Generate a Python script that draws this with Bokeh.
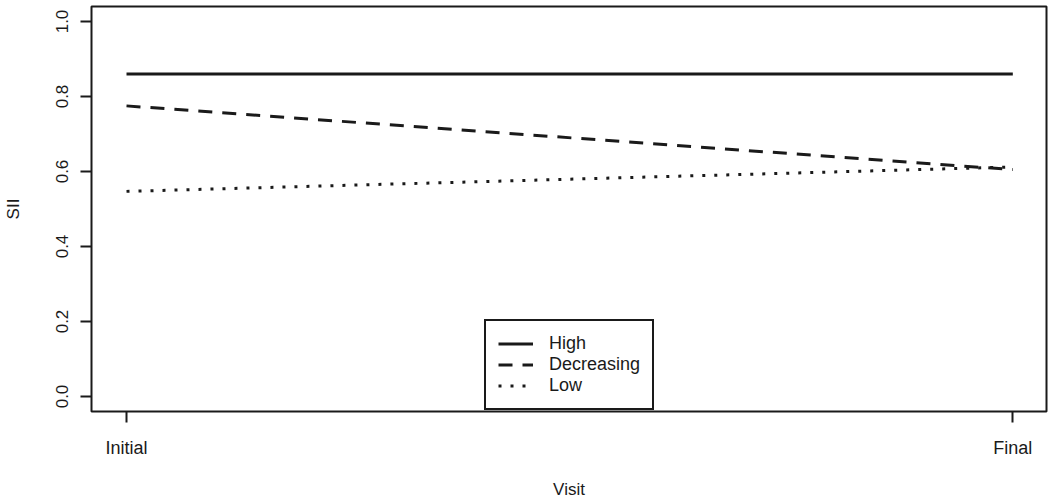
from bokeh.plotting import figure
from bokeh.models import FixedTicker, Range1d, Legend, LegendItem
from bokeh.embed import file_html
from bokeh.resources import INLINE

visits = ["Initial", "Final"]
visit_x = [1, 2]
high = [0.86, 0.86]
decreasing = [0.775, 0.605]
low = [0.547, 0.612]
y_ticks = [0.0, 0.2, 0.4, 0.6, 0.8, 1.0]

FONT = "Liberation Sans"
INK = "#1a1a1a"

p = figure(frame_width=955, frame_height=405, output_backend="svg",
           toolbar_location=None, x_range=Range1d(0.9605, 2.038),
           y_range=Range1d(-0.04, 1.04),
           min_border_left=90, min_border_right=3, min_border_top=6,
           min_border_bottom=89)
p.grid.visible = False
p.background_fill_color = "white"
p.border_fill_color = "white"
p.outline_line_color = INK
p.outline_line_width = 2

r_high = p.line(visit_x, high, line_color=INK, line_width=3)
r_dec = p.line(visit_x, decreasing, line_color=INK, line_width=3, line_dash="14 10")
r_low = p.line(visit_x, low, line_color=INK, line_width=3, line_dash="3 9")

for ax in (p.xaxis[0], p.yaxis[0]):
    ax.axis_line_color = None
    ax.major_tick_line_color = INK
    ax.major_tick_line_width = 2
    ax.major_tick_out = 11
    ax.major_tick_in = 0
    ax.minor_tick_line_color = None
    ax.major_label_text_font = FONT
    ax.major_label_text_color = INK
    ax.axis_label_text_font = FONT
    ax.axis_label_text_font_style = "normal"
    ax.axis_label_text_color = INK
    ax.axis_label_text_font_size = "17px"

p.xaxis.ticker = FixedTicker(ticks=visit_x)
p.xaxis.major_label_overrides = {x: v for x, v in zip(visit_x, visits)}
p.xaxis.major_label_text_font_size = "18px"
p.xaxis.major_label_standoff = 15
p.xaxis.axis_label = "Visit"
p.xaxis.axis_label_standoff = 19

p.yaxis.ticker = FixedTicker(ticks=y_ticks)
p.yaxis.major_label_overrides = {t: f"{t:.1f}" for t in y_ticks}
p.yaxis.major_label_orientation = "vertical"
p.yaxis.major_label_text_font_size = "17px"
p.yaxis.major_label_standoff = 13
p.yaxis.axis_label = "SII"
p.yaxis.axis_label_standoff = 30

legend = Legend(items=[LegendItem(label="High", renderers=[r_high]),
                       LegendItem(label="Decreasing", renderers=[r_dec]),
                       LegendItem(label="Low", renderers=[r_low])],
                location=(393, 1), margin=0, padding=12, spacing=0,
                glyph_width=35, glyph_height=21, label_height=21,
                label_standoff=16, label_text_font=FONT,
                label_text_font_size="18px", label_text_color=INK,
                border_line_color=INK, border_line_width=2, border_line_alpha=1,
                background_fill_color="white", background_fill_alpha=1)
p.add_layout(legend, "center")

open("out.html", "w").write(file_html(p, INLINE))
